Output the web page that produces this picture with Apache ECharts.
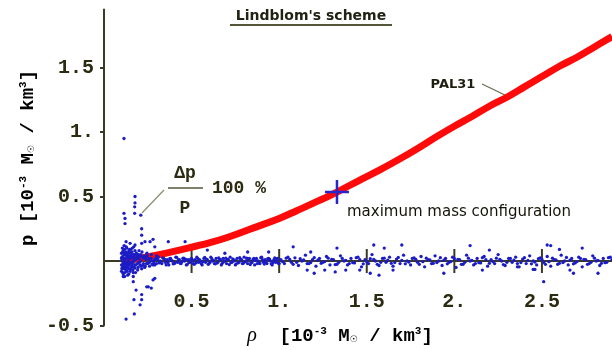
<!DOCTYPE html>
<html>
<head>
<meta charset="utf-8">
<script src="https://cdn.jsdelivr.net/npm/echarts@6/dist/echarts.min.js"></script>
<style>html,body{margin:0;padding:0;background:#fff}#c{width:612px;height:350px}</style>
</head>
<body>
<div id="c"></div>
<script>
// PAL31 equation of state p(rho)
const curveRho = [0.10,0.20,0.30,0.43,0.60,0.72,0.85,1.00,1.10,1.23,1.33,1.45,1.58,1.70,1.80,1.90,2.00,2.10,2.20,2.30,2.40,2.50,2.60,2.70,2.80,2.90];
const curveP   = [0.00,0.02,0.045,0.085,0.14,0.19,0.255,0.33,0.39,0.47,0.535,0.62,0.71,0.80,0.88,0.965,1.045,1.12,1.20,1.27,1.35,1.43,1.51,1.58,1.66,1.74];
// maximum mass configuration
const maxMassRho = 1.33;
const maxMassP = 0.535;
// relative deviation (dp/p * 100 %) points
const devLeftCluster = [[0.10,0.02],[0.10,-0.03],[0.10,0.06],[0.10,-0.08],[0.105,0.0],[0.105,0.1],[0.105,-0.05],[0.11,0.04],[0.11,-0.1],[0.11,0.08],[0.11,-0.02],[0.115,0.01],[0.115,-0.06],[0.115,0.12],[0.12,-0.04],[0.12,0.05],[0.12,-0.09],[0.12,0.0],[0.125,0.07],[0.125,-0.01],[0.125,-0.07],[0.13,0.03],[0.13,-0.05],[0.13,0.1],[0.135,-0.02],[0.135,0.06],[0.135,-0.11],[0.14,0.0],[0.14,0.04],[0.14,-0.06],[0.145,0.09],[0.145,-0.03],[0.15,0.02],[0.15,-0.08],[0.155,0.05],[0.155,-0.01],[0.16,-0.04],[0.16,0.07],[0.165,0.0],[0.165,-0.07],[0.17,0.03],[0.17,0.11],[0.175,-0.03],[0.175,0.05],[0.18,-0.09],[0.18,0.01],[0.185,0.06],[0.19,-0.02],[0.19,0.04],[0.195,-0.05],[0.2,0.02],[0.2,0.08],[0.205,-0.03],[0.21,0.0],[0.21,0.05],[0.215,-0.06],[0.22,0.03],[0.225,-0.02],[0.23,0.04],[0.235,-0.04],[0.24,0.01],[0.245,0.06],[0.25,-0.02],[0.112,0.015],[0.118,-0.025],[0.128,0.045],[0.138,-0.035],[0.148,0.065],[0.158,-0.015],[0.168,0.025],[0.178,-0.055],[0.188,0.035],[0.198,-0.01],
[0.102,0.03],[0.102,-0.06],[0.107,0.07],[0.107,-0.09],[0.113,-0.04],[0.113,0.06],[0.117,0.09],[0.117,-0.12],[0.122,0.02],[0.122,-0.05],[0.127,0.11],[0.127,-0.03],[0.132,-0.08],[0.132,0.05],[0.137,0.02],[0.137,-0.04],[0.142,0.08],[0.142,-0.1],[0.147,-0.02],[0.147,0.04],[0.152,-0.06],[0.152,0.09],[0.157,0.03],[0.157,-0.05],[0.162,0.1],[0.162,-0.02],[0.167,-0.09],[0.167,0.05],[0.172,0.0],[0.172,-0.05],[0.177,0.08],[0.182,-0.03],[0.187,0.02],[0.192,-0.07],[0.197,0.05],[0.202,-0.01],[0.207,0.04],[0.212,-0.04],[0.217,0.07],[0.222,-0.03],[0.227,0.02],[0.232,-0.05],[0.237,0.03],[0.242,-0.02],[0.247,0.04],[0.255,0.02],[0.26,-0.04],[0.27,0.05],[0.28,0.0],[0.29,-0.03],[0.3,0.04]];
const devOutliers = [[0.114,0.95],[0.114,0.37],[0.12,0.33],[0.12,0.29],[0.175,0.42],[0.175,0.37],[0.177,0.50],[0.177,0.45],[0.21,0.355],[0.215,0.25],[0.215,0.20],[0.126,0.15],[0.149,0.137],[0.177,0.124],[0.215,0.137],[0.234,0.15],[0.263,0.15],[0.28,0.168],[0.29,0.11],[0.367,0.15],[0.463,0.15],[0.11,-0.12],[0.167,-0.12],[0.183,-0.225],[0.215,-0.26],[0.215,-0.30],[0.253,-0.2],[0.27,-0.21],[0.171,-0.30],[0.126,-0.45],[0.173,-0.41],[0.206,-0.34],[0.29,-0.134],[0.167,-0.16],[0.244,-0.2],[0.28,-0.147],[0.59,0.085],[0.69,0.06],[0.82,0.07],[0.94,0.07],[1.08,0.11],[1.18,0.07],[1.33,0.10],[1.54,0.124],[1.60,0.10],[1.70,0.124],[2.09,0.12],[2.20,0.085],[2.53,0.124],[2.55,0.12],[2.60,0.09],[2.73,0.10],[1.16,-0.07],[1.20,-0.095],[1.26,-0.07],[1.32,-0.085],[1.38,-0.07],[1.46,-0.07],[1.52,-0.095],[1.57,-0.11],[1.65,-0.07],[1.94,-0.095],[2.16,-0.07],[2.36,-0.045],[2.45,-0.065],[2.46,-0.065],[2.51,-0.16],[2.66,-0.07],[2.68,-0.095],[2.82,-0.095]];
const devBand = [[0.26,-0.01],[0.27,0.02],[0.28,-0.03],[0.29,0.01],[0.30,-0.02],[0.31,0.03],[0.32,0.0],[0.33,-0.02],[0.34,0.02],[0.35,-0.01],[0.36,0.01],[0.37,-0.03],[0.38,0.02],[0.39,0.0],[0.40,-0.02],[0.41,0.03],[0.42,-0.01],[0.43,0.01],[0.44,-0.02],[0.45,0.02],[0.46,0.0],[0.47,-0.03],[0.48,0.01],[0.49,-0.01],[0.50,0.02],[0.51,-0.02],[0.52,0.01],[0.53,0.03],[0.54,-0.01],[0.55,0.0],[0.56,-0.03],[0.57,0.02],[0.58,-0.01],[0.59,0.01],[0.60,-0.02],[0.61,0.03],[0.62,0.0],[0.63,-0.02],[0.64,0.02],[0.65,-0.01],[0.66,0.01],[0.67,-0.03],[0.68,0.02],[0.69,0.0],[0.70,-0.02],[0.71,0.01],[0.72,0.03],[0.73,-0.01],[0.74,0.0],[0.75,-0.03],[0.76,0.02],[0.77,-0.01],[0.78,0.01],[0.79,-0.02],[0.80,0.03],[0.81,0.0],[0.82,-0.02],[0.83,0.02],[0.84,-0.01],[0.85,0.01],[0.86,-0.03],[0.87,0.02],[0.88,0.0],[0.89,-0.02],[0.90,0.03],[0.91,-0.01],[0.92,0.01],[0.93,-0.02],[0.94,0.02],[0.95,0.0],[0.96,-0.03],[0.97,0.01],[0.98,-0.01],[0.99,0.02],[1.00,-0.02],
[0.265,0.005],[0.285,-0.015],[0.305,0.012],[0.325,-0.008],[0.345,0.015],[0.365,-0.012],[0.385,0.004],[0.405,-0.016],[0.425,0.01],[0.445,-0.005],[0.465,0.014],[0.485,-0.012],[0.505,0.006],[0.525,-0.015],[0.545,0.011],[0.565,-0.006],[0.585,0.015],[0.605,-0.011],[0.625,0.005],[0.645,-0.016],[0.665,0.01],[0.685,-0.005],[0.705,0.013],[0.725,-0.012],[0.745,0.007],[0.765,-0.015],[0.785,0.01],[0.805,-0.006],[0.825,0.014],[0.845,-0.011],[0.865,0.004],[0.885,-0.016],[0.905,0.011],[0.925,-0.005],[0.945,0.015],[0.965,-0.012],[0.985,0.006],
[0.275,-0.025],[0.295,0.02],[0.315,-0.015],[0.335,0.025],[0.355,-0.03],[0.375,0.018],[0.395,-0.022],[0.415,0.028],[0.435,-0.018],[0.455,0.022],[0.475,-0.028],[0.495,0.015],[0.515,-0.025],[0.535,0.02],[0.555,-0.02],[0.575,0.028],[0.595,-0.026],[0.615,0.018],[0.635,-0.022],[0.655,0.025],[0.675,-0.018],[0.695,0.022],[0.715,-0.028],[0.735,0.016],[0.755,-0.022],[0.775,0.026],[0.795,-0.018],[0.815,0.022],[0.835,-0.028],[0.855,0.02],[0.875,-0.02],[0.895,0.026],[0.915,-0.024],[0.935,0.018],[0.955,-0.022],[0.975,0.025],[0.995,-0.018],
[1.01,0.01],[1.03,-0.02],[1.05,0.03],[1.07,-0.01],[1.09,0.025],[1.11,-0.035],[1.13,0.0],[1.15,0.045],[1.17,-0.02],[1.19,0.01],[1.21,-0.04],[1.23,0.02],[1.25,-0.01],[1.27,0.035],[1.29,-0.03],[1.31,0.01],[1.33,-0.025],[1.35,0.04],[1.37,0.0],[1.39,-0.03],[1.41,0.02],[1.43,-0.015],[1.45,0.03],[1.47,-0.045],[1.49,0.01],[1.51,-0.02],[1.53,0.05],[1.55,0.0],[1.57,-0.035],[1.59,0.02],[1.61,-0.01],[1.63,0.03],[1.65,-0.04],[1.67,0.015],[1.69,-0.02],[1.71,0.045],[1.73,0.0],[1.75,-0.03],[1.77,0.025],[1.79,-0.01],[1.81,0.035],[1.83,-0.045],[1.85,0.01],[1.87,-0.02],[1.89,0.04],[1.91,0.0],[1.93,-0.035],[1.95,0.02],[1.97,-0.01],[1.99,0.03],[2.01,-0.05],[2.03,0.01],[2.05,-0.025],[2.07,0.045],[2.09,0.0],[2.11,-0.03],[2.13,0.02],[2.15,-0.015],[2.17,0.035],[2.19,-0.04],[2.21,0.01],[2.23,-0.02],[2.25,0.05],[2.27,0.0],[2.29,-0.035],[2.31,0.02],[2.33,-0.01],[2.35,0.03],[2.37,-0.045],[2.39,0.015],[2.41,-0.02],[2.43,0.04],[2.45,0.0],[2.47,-0.03],[2.49,0.025],[2.51,-0.01],[2.53,0.035],[2.55,-0.04],[2.57,0.01],[2.59,-0.025],[2.61,0.045],[2.63,0.0],[2.65,-0.03],[2.67,0.02],[2.69,-0.015],[2.71,0.03],[2.73,-0.045],[2.75,0.01],[2.77,-0.02],[2.79,0.04],[2.81,0.0],[2.83,-0.035],[2.85,0.02],[2.87,-0.01],[2.89,0.03],
[1.02,-0.005],[1.06,0.012],[1.10,-0.01],[1.14,0.008],[1.18,-0.012],[1.22,0.006],[1.26,-0.004],[1.30,0.013],[1.34,-0.01],[1.38,0.005],[1.42,-0.013],[1.46,0.01],[1.50,-0.004],[1.54,0.012],[1.58,-0.01],[1.62,0.006],[1.66,-0.012],[1.70,0.004],[1.74,-0.008],[1.78,0.012],[1.82,-0.005],[1.86,0.009],[1.90,-0.012],[1.94,0.006],[1.98,-0.004],[2.02,0.012],[2.06,-0.01],[2.10,0.005],[2.14,-0.013],[2.18,0.01],[2.22,-0.004],[2.26,0.012],[2.30,-0.01],[2.34,0.006],[2.38,-0.012],[2.42,0.004],[2.46,-0.008],[2.50,0.012],[2.54,-0.005],[2.58,0.009],[2.62,-0.012],[2.66,0.006],[2.70,-0.004],[2.74,0.012],[2.78,-0.01],[2.82,0.005],[2.86,-0.013],[2.90,0.01],
[1.04,0.022],[1.08,-0.026],[1.12,0.018],[1.16,-0.02],[1.20,0.026],[1.24,-0.018],[1.28,0.022],[1.32,-0.028],[1.36,0.02],[1.40,-0.02],[1.44,0.026],[1.48,-0.022],[1.52,0.018],[1.56,-0.026],[1.60,0.022],[1.64,-0.018],[1.68,0.028],[1.72,-0.022],[1.76,0.02],[1.80,-0.026],[1.84,0.022],[1.88,-0.018],[1.92,0.026],[1.96,-0.022],[2.00,0.018],[2.04,-0.026],[2.08,0.022],[2.12,-0.02],[2.16,0.026],[2.20,-0.018],[2.24,0.022],[2.28,-0.028],[2.32,0.02],[2.36,-0.02],[2.40,0.026],[2.44,-0.022],[2.48,0.018],[2.52,-0.026],[2.56,0.022],[2.60,-0.018],[2.64,0.028],[2.68,-0.022],[2.72,0.02],[2.76,-0.026],[2.80,0.022],[2.84,-0.018],[2.88,0.026]];
const xTicks = [0.5,1,1.5,2,2.5];
const yTicks = [-0.5,0.5,1,1.5];

const TXT = '#2b2b12';
const AX = '#3a3a24';
const fmt = v => Number.isInteger(v) ? v + '.' : String(v);
const chart = echarts.init(document.getElementById('c'), null, {renderer:'canvas'});
const unitRich = {
  m:{fontFamily:'Liberation Mono',fontSize:19,fontWeight:'bold',color:TXT},
  r:{fontFamily:'Liberation Serif',fontStyle:'italic',fontSize:20,color:TXT},
  sup:{fontFamily:'Liberation Mono',fontSize:11,fontWeight:'bold',color:TXT,verticalAlign:'top',padding:[0,0,10,0]},
  sub:{fontFamily:'DejaVu Sans',fontSize:9,color:TXT,padding:[8,0,0,0]}
};
chart.setOption({
  animation:false,
  grid:[
    {left:104,right:0,top:9.5,bottom:24.5,containLabel:false,outerBoundsMode:'none'},
    // upper half grid: its bottom edge sits on p = 0 and carries the rho axis
    {left:104,right:0,top:9.5,bottom:89,containLabel:false,outerBoundsMode:'none'}
  ],
  xAxis:[{
    type:'value',min:0,max:2.9,gridIndex:0,show:false
  },{
    type:'value',min:0,max:2.9,gridIndex:1,position:'bottom',
    axisLine:{show:true,onZero:false,lineStyle:{color:AX,width:2}},
    axisTick:{show:false},
    axisLabel:{customValues:xTicks,formatter:fmt,margin:31,fontFamily:'Liberation Mono',fontSize:20,fontWeight:'bold',color:TXT},
    splitLine:{show:false}
  }],
  yAxis:[{
    type:'value',min:-0.5,max:1.95,gridIndex:0,
    axisLine:{show:true,onZero:false,lineStyle:{color:AX,width:2}},
    axisTick:{show:true,length:4,customValues:yTicks,lineStyle:{color:AX,width:2}},
    axisLabel:{customValues:yTicks,formatter:fmt,margin:10,fontFamily:'Liberation Mono',fontSize:20,fontWeight:'bold',color:TXT},
    splitLine:{show:false}
  },{
    type:'value',min:0,max:1.95,gridIndex:1,show:false
  }],
  series:[
    {type:'scatter',data:xTicks.map(v=>[v,0]),symbol:'rect',symbolSize:[2,24],silent:true,
     itemStyle:{color:AX,opacity:1},z:1},
    {type:'line',data:curveRho.map((x,i)=>[x,curveP[i]]),smooth:0.4,showSymbol:false,symbol:'none',
     lineStyle:{color:'#ff0a0a',width:7},z:2},
    {type:'scatter',data:devBand.concat(devLeftCluster,devOutliers),symbolSize:3.3,
     itemStyle:{color:'#1c1cc6',opacity:1},z:3},
    {type:'scatter',data:[[maxMassRho,maxMassP]],symbol:'path://M12,0 L12,24 M0,12 L24,12',symbolSize:24,
     itemStyle:{color:'none',borderColor:'#2626cc',borderWidth:2.5,opacity:1},z:4}
  ],
  graphic:[
    {type:'text',x:311,y:16,style:{text:"Lindblom's scheme",fontFamily:'DejaVu Sans',fontSize:14,fontWeight:'bold',fill:'#222214',align:'center',verticalAlign:'middle'}},
    {type:'line',shape:{x1:230,y1:25,x2:392,y2:25},style:{stroke:'#55553a',lineWidth:2}},
    {type:'text',x:453,y:85,style:{text:'PAL31',fontFamily:'DejaVu Sans',fontSize:13,fontWeight:'bold',fill:'#1e1e10',align:'center',verticalAlign:'middle'}},
    {type:'line',shape:{x1:482,y1:84,x2:507,y2:96},style:{stroke:'#6a6a50',lineWidth:1.2}},
    {type:'text',x:347,y:212,style:{text:'maximum mass configuration',fontFamily:'DejaVu Sans',fontSize:15,fill:'#141408',align:'left',verticalAlign:'middle'}},
    {type:'text',x:185,y:173,style:{text:'\u0394p',fontFamily:'Liberation Mono',fontSize:18,fontWeight:'bold',fill:TXT,align:'center',verticalAlign:'middle'}},
    {type:'line',shape:{x1:168,y1:188,x2:203,y2:188},style:{stroke:'#55553a',lineWidth:1.5}},
    {type:'text',x:185,y:208,style:{text:'P',fontFamily:'Liberation Mono',fontSize:18,fontWeight:'bold',fill:TXT,align:'center',verticalAlign:'middle'}},
    {type:'text',x:212,y:188,style:{text:'100 %',fontFamily:'Liberation Mono',fontSize:18,fontWeight:'bold',fill:TXT,align:'left',verticalAlign:'middle'}},
    {type:'line',shape:{x1:164,y1:190,x2:142,y2:213},style:{stroke:'#8a8a70',lineWidth:1.2}},
    {type:'text',x:340,y:336,style:{text:'{r|\u03c1}{m|  [10}{sup|-3}{m| M}{sub|\u2609}{m| / km}{sup|3}{m|]}',rich:unitRich,align:'center',verticalAlign:'middle'}},
    {type:'text',x:28,y:158,rotation:Math.PI/2,style:{text:'{m|p [10}{sup|-3}{m| M}{sub|\u2609}{m| / km}{sup|3}{m|]}',rich:unitRich,align:'center',verticalAlign:'middle'}}
  ]
});
</script>
</body>
</html>
